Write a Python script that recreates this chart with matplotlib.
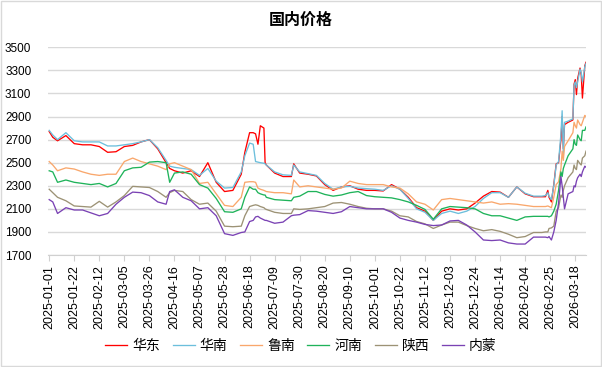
import matplotlib
matplotlib.use("Agg")
import matplotlib.pyplot as plt
import matplotlib.dates as mdates
from matplotlib.patches import Rectangle
import pandas as pd

plt.rcParams['font.family'] = ['Liberation Sans', 'Noto Sans CJK SC', 'DejaVu Sans']

# days counted from 2025-01-01
day_offsets = [
    0, 3, 7, 14, 21, 28, 35, 42, 49, 56,
    63, 70, 77, 84, 91, 98, 101, 105, 112, 119,
    126, 133, 140, 147, 154, 161, 164, 168, 171, 173,
    175, 177, 180, 181, 182, 189, 196, 203, 205, 210,
    217, 224, 231, 238, 245, 252, 259, 266, 273, 280,
    287, 294, 301, 308, 315, 322, 329, 336, 343, 350,
    357, 364, 371, 378, 385, 392, 399, 406, 413, 416,
    418, 419, 421, 423, 425, 427, 429, 430, 431, 432,
    435, 439, 440, 441, 442, 443, 445, 446, 447, 449,
    450]

huadong = [
    2770, 2720, 2690, 2735, 2665, 2655, 2655, 2640, 2590, 2595,
    2640, 2650, 2680, 2700, 2620, 2500, 2450, 2430, 2410, 2430,
    2380, 2500, 2330, 2250, 2260, 2400, 2590, 2760, 2760, 2750,
    2660, 2820, 2800, 2500, 2480, 2410, 2380, 2380, 2490, 2410,
    2400, 2385, 2310, 2260, 2290, 2300, 2270, 2260, 2260, 2255,
    2310, 2270, 2200, 2110, 2080, 2000, 2080, 2100, 2090, 2100,
    2150, 2210, 2250, 2245, 2200, 2290, 2230, 2205, 2205, 2205,
    2260, 2200, 2160, 2310, 2490, 2500, 2700, 2900, 2620, 2830,
    2850, 2870, 3180, 3220, 3090, 3230, 3320, 3260, 3060, 3340,
    3370]
huanan = [
    2780, 2740, 2700, 2760, 2690, 2680, 2680, 2680, 2645, 2645,
    2655, 2665, 2680, 2700, 2630, 2520, 2470, 2460, 2450, 2440,
    2390, 2450, 2340, 2280, 2285, 2420, 2560, 2670, 2660, 2510,
    2505, 2500, 2495, 2490, 2480, 2420, 2395, 2390, 2480, 2420,
    2405, 2390, 2320, 2270, 2290, 2295, 2280, 2275, 2270, 2260,
    2300, 2270, 2190, 2100, 2070, 2000, 2060, 2080, 2060, 2080,
    2120, 2190, 2240, 2240, 2200, 2290, 2235, 2210, 2210, 2215,
    2240, 2210, 2180, 2300, 2480, 2510, 2750, 2950, 2580, 2850,
    2860, 2880, 3170, 3200, 3150, 3200, 3310, 3280, 3200, 3330,
    3360]
lunan = [
    2510, 2480, 2430, 2455, 2445, 2420, 2400, 2390, 2400, 2400,
    2510, 2540, 2510, 2490, 2470, 2440, 2490, 2500, 2470, 2440,
    2320, 2330, 2230, 2130, 2120, 2200, 2330, 2335, 2335, 2330,
    2280, 2270, 2260, 2255, 2250, 2240, 2240, 2230, 2350, 2290,
    2300, 2290, 2280, 2270, 2280, 2340, 2320, 2310, 2310, 2310,
    2290, 2280, 2230, 2160, 2140, 2090, 2180, 2190, 2180, 2170,
    2160, 2150, 2160, 2140, 2145, 2140, 2130, 2120, 2120, 2120,
    2125, 2120, 2110, 2200, 2310, 2335, 2450, 2600, 2520, 2640,
    2690, 2760, 2850, 2820, 2800, 2870, 2830, 2820, 2850, 2910,
    2900]
henan = [
    2430, 2420, 2330, 2350, 2330, 2320, 2310, 2320, 2290, 2320,
    2430, 2455, 2460, 2505, 2510, 2500, 2330, 2410, 2420, 2400,
    2310, 2280, 2190, 2075, 2070, 2100, 2200, 2290, 2270, 2270,
    2240, 2230, 2220, 2220, 2200, 2180, 2175, 2170, 2200, 2210,
    2250, 2250, 2225, 2210, 2220, 2240, 2250, 2215, 2205, 2200,
    2195, 2180, 2160, 2130, 2095, 2010, 2100, 2120, 2115, 2110,
    2100, 2060, 2040, 2040, 2020, 2000, 2030, 2035, 2035, 2035,
    2035, 2030, 2040, 2080, 2140, 2260, 2420, 2380, 2450, 2480,
    2560, 2620, 2700, 2660, 2650, 2740, 2700, 2690, 2780, 2780,
    2810]
shaanxi = [
    2270, 2240, 2200, 2170, 2125, 2120, 2115, 2165, 2115, 2160,
    2215, 2295, 2290, 2285, 2250, 2200, 2240, 2260, 2250, 2180,
    2140, 2150, 2080, 1950, 1945, 1950, 2040, 2120, 2130, 2135,
    2130, 2120, 2110, 2100, 2095, 2070, 2060, 2060, 2100, 2095,
    2100, 2110, 2120, 2150, 2155, 2140, 2120, 2105, 2100, 2100,
    2080, 2040, 2030, 1990, 1970, 1930, 1960, 1985, 1985, 1955,
    1930, 1910, 1920, 1905, 1880, 1850, 1860, 1895, 1895, 1900,
    1900, 1930, 1935, 1950, 2080, 2110, 2220, 2200, 2260, 2300,
    2370, 2420, 2480, 2450, 2440, 2520, 2490, 2480, 2540, 2560,
    2600]
neimeng = [
    2180, 2160, 2060, 2110, 2090, 2090, 2065, 2040, 2060, 2140,
    2200, 2245, 2240, 2215, 2160, 2140, 2250, 2265, 2200, 2170,
    2100, 2110, 2040, 1885, 1870, 1895, 1900, 1990, 2000, 2030,
    2035, 2020, 2005, 2000, 2000, 1975, 1985, 2040, 2045, 2050,
    2085, 2080, 2070, 2060, 2075, 2120, 2110, 2100, 2100, 2100,
    2070, 2020, 2000, 1985, 1965, 1955, 1960, 1995, 2000, 1960,
    1900, 1830, 1825, 1830, 1805, 1795, 1795, 1855, 1855, 1855,
    1850, 1860, 1830, 1900, 2000, 2150, 2380, 2300, 2200, 2100,
    2230, 2250, 2300, 2290, 2340, 2370, 2400, 2380, 2420, 2470,
    2460]

names = ['华东', '华南', '鲁南', '河南', '陕西', '内蒙']
series = [huadong, huanan, lunan, henan, shaanxi, neimeng]
colors = ['#ff0000', '#6cbfdc', '#f9a76c', '#1fb35a', '#9c9275', '#7a42b4']

start = pd.Timestamp('2025-01-01')
dates = start + pd.to_timedelta(day_offsets, unit='D')

fig = plt.figure(figsize=(6.02, 3.67), dpi=100)
ax = fig.add_axes([48 / 602, 1 - 255 / 367, 538 / 602, 207.7 / 367])

for name, vals, c in zip(names, series, colors):
    ax.plot(dates, vals, color=c, lw=0.95, label=name)

ax.set_ylim(1700, 3500)
ax.set_yticks(range(1700, 3501, 200))
ax.set_xlim(start - pd.Timedelta(days=1), start + pd.Timedelta(days=450))
ticks = pd.date_range('2025-01-01', '2026-03-18', freq='21D')
ax.set_xticks(ticks)
ax.xaxis.set_major_formatter(mdates.DateFormatter('%Y-%m-%d'))
plt.setp(ax.get_xticklabels(), rotation=90)

ax.grid(axis='y', color='#d9d9d9', lw=1.0)
ax.set_axisbelow(True)
for s in ['top', 'right', 'left']:
    ax.spines[s].set_visible(False)
ax.spines['bottom'].set_color('#d0d0d0')
ax.tick_params(axis='y', length=0, pad=12, labelsize=8.5, labelcolor='#000000')
ax.tick_params(axis='x', length=4, color='#d0d0d0', pad=3, labelsize=9)

fig.text(0.5, 1 - 20 / 367, '国内价格', ha='center', va='center',
         fontsize=11.5, fontweight='bold')

fig.legend(loc='center', bbox_to_anchor=(0.5, 1 - 346 / 367), ncol=6,
           frameon=False, fontsize=10, handlelength=1.6, columnspacing=0.9,
           handletextpad=0.35)

fig.patches.append(Rectangle((0.0015, 0.0025), 0.997, 0.995, transform=fig.transFigure,
                             fill=False, edgecolor='#d9d9d9', lw=1.0))

fig.savefig('out.png', dpi=100)
